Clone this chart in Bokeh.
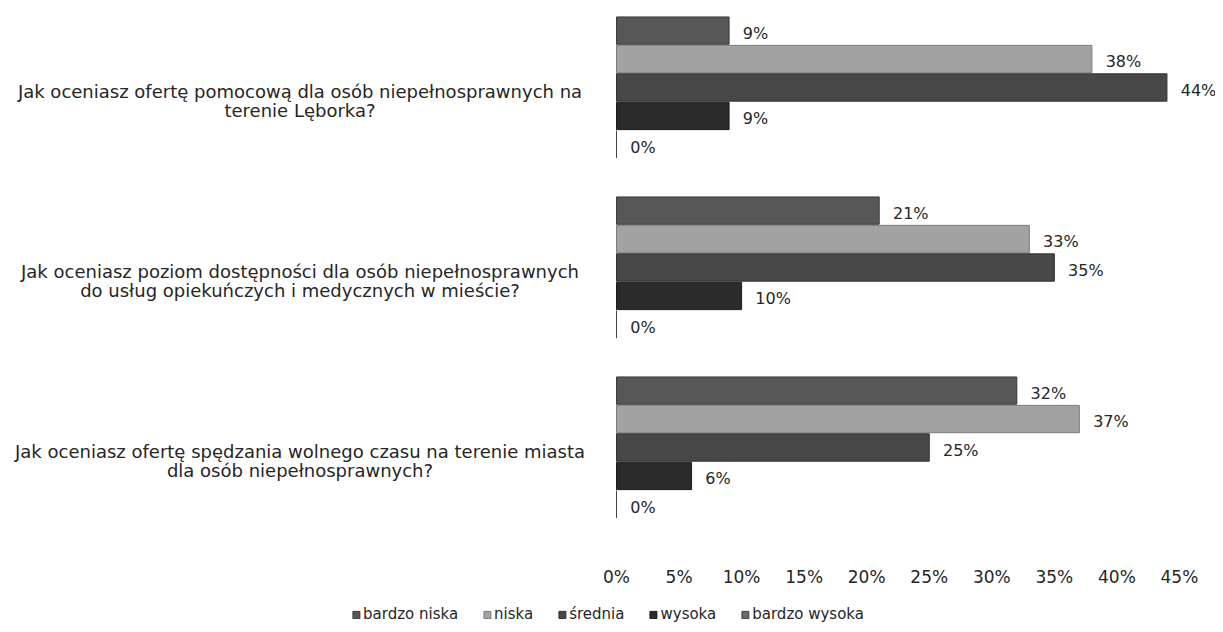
from bokeh.plotting import figure
from bokeh.layouts import column
from bokeh.models import (Range1d, FixedTicker, Legend, LegendItem, ColumnDataSource,
                          PrintfTickFormatter)
from bokeh.core.properties import value
from bokeh.embed import file_html
from bokeh.resources import INLINE

# ---- data ----
questions = [
    "Jak oceniasz ofertę pomocową dla osób niepełnosprawnych na\nterenie Lęborka?",
    "Jak oceniasz poziom dostępności dla osób niepełnosprawnych\ndo usług opiekuńczych i medycznych w mieście?",
    "Jak oceniasz ofertę spędzania wolnego czasu na terenie miasta\ndla osób niepełnosprawnych?",
]
series_names = ["bardzo niska", "niska", "średnia", "wysoka", "bardzo wysoka"]
bardzo_niska = [9, 21, 32]
niska = [38, 33, 37]
srednia = [44, 35, 25]
wysoka = [9, 10, 6]
bardzo_wysoka = [0, 0, 0]
tick_values = [0, 5, 10, 15, 20, 25, 30, 35, 40, 45]

series_values = [bardzo_niska, niska, srednia, wysoka, bardzo_wysoka]
colors = ["#575757", "#a2a2a2", "#484848", "#2b2b2b", "#6a6a6a"]
edge_colors = ["#3a3a3a", "#7c7c7c", "#303030", "#1a1a1a", "#444444"]

FONT = "DejaVu Sans"
TXT = "#262626"

# layout constants
PX_PER_UNIT_X = 12.51
ZERO_PX = 616
FRAME_W = 1215
FRAME_H = 520
MAIN_BOTTOM = 80
LEG_H = 28
GROUP_PX = 180
G0_PX = 87
PITCH = 0.158
BAR_H = 0.152

x_start = -ZERO_PX / PX_PER_UNIT_X
x_end = x_start + FRAME_W / PX_PER_UNIT_X
y_top = -G0_PX / GROUP_PX
y_bottom = y_top + FRAME_H / GROUP_PX

p = figure(frame_width=FRAME_W, frame_height=FRAME_H,
           x_range=Range1d(x_start, x_end), y_range=Range1d(y_bottom, y_top),
           output_backend="svg", toolbar_location=None, y_axis_location=None,
           min_border_left=0, min_border_right=0, min_border_top=0,
           min_border_bottom=MAIN_BOTTOM)
p.outline_line_color = None
p.grid.visible = False
p.background_fill_color = "white"
p.border_fill_color = "white"

sources = []
for i, (name, vals) in enumerate(zip(series_names, series_values)):
    ys = [g + (i - 2) * PITCH for g in range(len(questions))]
    src = ColumnDataSource(dict(y=ys, v=vals,
                                lx=[v + 1.1 for v in vals],
                                ly=[y + 0.015 for y in ys],
                                lab=[f"{v}%" for v in vals]))
    sources.append(src)
    p.hbar(y="y", left=0, right="v", height=BAR_H, source=src,
           fill_color=colors[i], line_color=edge_colors[i], line_width=1)
    p.text(x="lx", y="ly", text="lab", source=src, text_font=value(FONT),
           text_font_size="16px", text_color=TXT, text_baseline="middle", text_align="left")

qsrc = ColumnDataSource(dict(x=[-25.3] * len(questions),
                             y=[g + 0.075 for g in range(len(questions))],
                             t=questions))
p.text(x="x", y="y", text="t", source=qsrc, text_font=value(FONT),
       text_font_size="18px", text_color=TXT, text_align="center",
       text_baseline="middle", text_line_height=0.95)

ax = p.xaxis[0]
ax.ticker = FixedTicker(ticks=tick_values)
ax.formatter = PrintfTickFormatter(format="%d%%")
ax.axis_line_color = None
ax.major_tick_line_color = None
ax.minor_tick_line_color = None
ax.major_tick_out = 0
ax.major_tick_in = 0
ax.major_label_standoff = 46
ax.major_label_text_font = FONT
ax.major_label_text_font_size = "17px"
ax.major_label_text_color = TXT

# ---- legend strip: proxy renderers share the series data but lie outside this strip's y range ----
lf = figure(frame_width=FRAME_W, frame_height=LEG_H,
            x_range=Range1d(0, 1), y_range=Range1d(50, 51),
            output_backend="svg", toolbar_location=None, x_axis_location=None, y_axis_location=None,
            min_border_left=0, min_border_right=0, min_border_top=0, min_border_bottom=0)
lf.outline_line_color = None
lf.grid.visible = False
lf.background_fill_color = "white"
lf.border_fill_color = "white"
items = []
for i, name in enumerate(series_names):
    r = lf.hbar(y="y", left=0, right="v", height=BAR_H, source=sources[i],
                fill_color=colors[i], line_color=edge_colors[i])
    items.append(LegendItem(label=name, renderers=[r]))
legend = Legend(items=items, orientation="horizontal", location="center",
                border_line_color=None, background_fill_alpha=0,
                label_text_font=FONT, label_text_font_size="15px", label_text_color=TXT,
                glyph_width=9, glyph_height=9, label_standoff=3, spacing=24,
                padding=4, margin=0, label_height=18)
lf.add_layout(legend, "center")

layout = column(p, lf, spacing=0)
open("out.html", "w").write(file_html(layout, INLINE))
